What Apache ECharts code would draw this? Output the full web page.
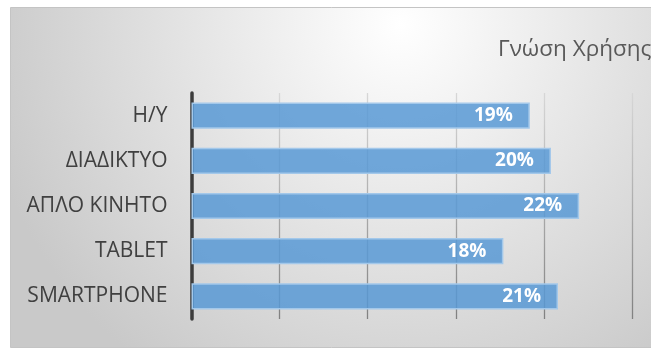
<!DOCTYPE html>
<html>
<head>
<meta charset="utf-8">
<script src="https://cdn.jsdelivr.net/npm/echarts@6/dist/echarts.min.js"></script>
<style>
  html, body { margin: 0; padding: 0; background: #ffffff; }
  #chart { width: 651px; height: 350px; }
</style>
</head>
<body>
<div id="chart"></div>
<script>
// κατηγορίες και ποσοστά (από πάνω προς τα κάτω)
const categories = ["H/Y", "ΔΙΑΔΙΚΤΥΟ", "ΑΠΛΟ ΚΙΝΗΤΟ", "TABLET", "SMARTPHONE"];
const values = [19.2, 20.4, 22.0, 17.7, 20.8];
const titleText = "Γνώση Χρήσης";
const axisMax = 25;
const axisStep = 5;

const chart = echarts.init(document.getElementById("chart"));

const option = {
  animation: false,
  graphic: [
    {
      type: "rect",
      z: -10,
      silent: true,
      shape: { x: 10.5, y: 7.5, width: 650, height: 340 },
      style: {
        fill: new echarts.graphic.RadialGradient(0.6, 0.05, 1.25, [
          { offset: 0, color: "#ffffff" },
          { offset: 1, color: "#c9c9c9" },
        ]),
        stroke: "#c4c4c4",
        lineWidth: 1,
      },
    },
  ],
  title: {
    text: titleText,
    left: 493,
    top: 33,
    textStyle: {
      fontFamily: "Open Sans",
      fontSize: 22.5,
      fontWeight: "normal",
      color: "#595959",
    },
  },
  grid: {
    left: 191.5,
    right: 19,
    top: 93,
    bottom: 31,
    containLabel: false,
  },
  xAxis: {
    type: "value",
    min: 0,
    max: axisMax,
    interval: axisStep,
    axisLine: { show: false },
    axisTick: { show: false },
    axisLabel: { show: false },
    splitLine: {
      show: true,
      lineStyle: {
        width: 1.3,
        color: new echarts.graphic.LinearGradient(0, 0, 0, 1, [
          { offset: 0, color: "#d8d8d8" },
          { offset: 1, color: "#808080" },
        ]),
      },
    },
  },
  yAxis: {
    type: "category",
    data: categories,
    inverse: true,
    axisLine: { show: true, lineStyle: { color: "#3c3c3c", width: 3.5 } },
    axisTick: { show: false },
    axisLabel: {
      margin: 24,
      fontFamily: "Open Sans",
      fontSize: 21,
      color: "#404040",
    },
  },
  series: [
    {
      type: "bar",
      data: values,
      barCategoryGap: "42%",
      itemStyle: {
        color: "rgba(88,153,213,0.85)",
        borderColor: "#a3c8ea",
        borderWidth: 1.5,
      },
      label: {
        show: true,
        position: "insideRight",
        distance: 17,
        fontFamily: "Open Sans",
        fontWeight: "bold",
        fontSize: 19,
        color: "#ffffff",
        formatter: (p) => Math.round(p.value) + "%",
      },
    },
  ],
};

chart.setOption(option);
</script>
</body>
</html>
